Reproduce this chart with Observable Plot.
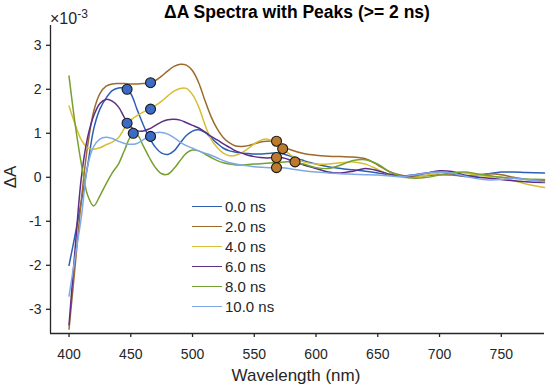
<!DOCTYPE html>
<html>
<head>
<meta charset="utf-8">
<script src="https://cdn.jsdelivr.net/npm/d3@7"></script>
<script src="https://cdn.jsdelivr.net/npm/@observablehq/plot@0.6"></script>
<style>
  body { margin: 0; background: white; }
  #wrap { position: relative; width: 550px; height: 390px; font-family: "Liberation Sans", Arial, sans-serif; color: #262626; }
  .ov { position: absolute; white-space: nowrap; }
  #title { left: 44px; width: 506px; top: 3px; text-align: center; font-weight: bold; font-size: 17.5px; line-height: 19px; color: #000; }
  #exp { left: 50px; top: 5px; font-size: 16px; line-height: 18px; }
  #exp sup { font-size: 12px; vertical-align: 6px; }
  #ylab { left: 11px; top: 177px; font-size: 17px; transform: translate(-50%, -50%) rotate(-90deg); }
  #xlab { left: 296px; top: 376px; font-size: 17px; transform: translate(-50%, -50%); }
  .leg { position: absolute; left: 192px; font-size: 15px; line-height: 17px; display: flex; align-items: center; }
  .leg span.sw { display: inline-block; width: 30px; height: 0; border-top: 1.6px solid; margin-right: 3px; }
</style>
</head>
<body>
<div id="wrap"></div>
<script>
// Wavelength grid (nm)
const wavelengths = [400,405,410,415,420,425,430,435,440,445,450,455,460,465,470,475,480,485,490,495,500,505,510,515,520,525,530,535,540,545,550,555,560,565,570,575,580,590,600,610,620,630,640,650,660,670,680,690,700,710,720,730,740,750,760,770,785];

// ΔA values (×10^-3) for each delay
const dA_0ns = [-2.0,-1.3,-0.55,0.25,1.1,1.55,1.8,1.97,2.03,2.02,1.9,1.55,1.2,0.9,0.68,0.55,0.52,0.6,0.78,0.95,1.05,1.08,1.02,0.9,0.77,0.66,0.6,0.57,0.55,0.54,0.53,0.53,0.54,0.55,0.55,0.52,0.47,0.38,0.3,0.24,0.2,0.17,0.14,0.1,0.05,0.03,0.06,0.1,0.12,0.08,0.02,0.03,0.08,0.12,0.12,0.11,0.1];
const dA_2ns = [-3.45,-2.0,-0.5,0.7,1.5,1.9,2.07,2.12,2.13,2.13,2.12,2.12,2.13,2.15,2.2,2.3,2.42,2.52,2.57,2.55,2.42,2.15,1.75,1.38,1.1,0.9,0.78,0.71,0.7,0.72,0.76,0.8,0.82,0.82,0.76,0.68,0.62,0.54,0.5,0.48,0.47,0.46,0.42,0.28,0.12,0.04,0.02,0.04,0.06,0.05,0.03,0.05,0.08,0.06,0.0,-0.05,-0.08];
const dA_4ns = [1.62,1.2,0.85,0.67,0.64,0.67,0.74,0.8,0.9,1.12,1.3,1.4,1.48,1.55,1.63,1.73,1.85,1.96,2.02,2.02,1.88,1.6,1.2,0.87,0.68,0.55,0.49,0.5,0.56,0.65,0.76,0.84,0.87,0.82,0.7,0.6,0.5,0.35,0.3,0.3,0.33,0.35,0.3,0.18,0.05,0.0,0.0,0.05,0.1,0.12,0.1,0.05,0.02,0.0,-0.08,-0.15,-0.23];
const dA_6ns = [-3.35,-1.6,0.0,0.9,1.4,1.68,1.77,1.73,1.6,1.35,1.15,1.06,1.05,1.1,1.18,1.26,1.31,1.32,1.3,1.24,1.18,1.12,1.03,0.93,0.85,0.76,0.68,0.6,0.55,0.5,0.47,0.45,0.44,0.45,0.45,0.43,0.38,0.28,0.2,0.12,0.1,0.14,0.2,0.15,0.07,0.03,0.04,0.1,0.15,0.13,0.05,0.0,-0.02,-0.05,-0.08,-0.1,-0.12];
const dA_8ns = [2.3,1.2,0.3,-0.4,-0.65,-0.42,-0.15,0.1,0.3,0.62,0.92,0.97,0.72,0.45,0.22,0.08,0.07,0.2,0.38,0.55,0.62,0.6,0.53,0.45,0.38,0.33,0.3,0.28,0.28,0.29,0.3,0.31,0.32,0.33,0.34,0.35,0.35,0.3,0.22,0.2,0.28,0.38,0.4,0.3,0.12,0.02,-0.02,0.0,0.05,0.1,0.12,0.08,0.04,0.0,-0.02,-0.04,-0.05];
const dA_10ns = [-2.7,-1.8,-0.9,0.25,0.7,0.87,0.91,0.88,0.82,0.77,0.75,0.77,0.85,0.95,1.01,1.02,0.98,0.9,0.8,0.72,0.66,0.6,0.55,0.5,0.44,0.38,0.33,0.3,0.28,0.26,0.24,0.23,0.22,0.22,0.22,0.21,0.19,0.15,0.12,0.1,0.08,0.07,0.06,0.05,0.03,0.02,0.05,0.1,0.12,0.1,0.03,-0.03,-0.06,-0.05,-0.02,-0.05,-0.1];

const seriesNames = ["0.0 ns","2.0 ns","4.0 ns","6.0 ns","8.0 ns","10.0 ns"];
const seriesValues = [dA_0ns, dA_2ns, dA_4ns, dA_6ns, dA_8ns, dA_10ns];
const seriesColors = ["#2e5fb3","#9c6a2c","#d6bf34","#5b2f88","#76a030","#7fa8ea"];

// Detected peaks
const peakWl   = [447, 466, 466, 447, 452, 466, 568, 573, 568, 583, 568];
const peakVal  = [2.0, 2.15, 1.55, 1.23, 1.0, 0.93, 0.82, 0.65, 0.45, 0.35, 0.22];
const peakKind = ["first","first","first","first","first","first","second","second","second","second","second"];

const xTicks = [400,450,500,550,600,650,700,750];
const yTicks = [-3,-2,-1,0,1,2,3];

const rows = [];
seriesNames.forEach((name, i) => {
  wavelengths.forEach((w, j) => rows.push({wl: w, v: seriesValues[i][j], name}));
});
const peaks = peakWl.map((w, i) => ({wl: w, v: peakVal[i], kind: peakKind[i]}));

const axisColor = "#262626";
const chart = Plot.plot({
  width: 550,
  height: 390,
  marginLeft: 50,
  marginRight: 6,
  marginTop: 25,
  marginBottom: 57,
  style: {fontFamily: '"Liberation Sans", Arial, sans-serif', fontSize: "14px", color: axisColor, background: "white"},
  x: {domain: [385, 785]},
  y: {domain: [-3.55, 3.45]},
  color: {domain: seriesNames, range: seriesColors},
  marks: [
    Plot.line(rows, {x: "wl", y: "v", z: "name", stroke: "name", curve: "catmull-rom", strokeWidth: 1.5}),
    Plot.dot(peaks, {x: "wl", y: "v", r: 5, fill: d => d.kind === "first" ? "#3b6bc5" : "#bd7a2c", stroke: "#1a1a1a", strokeWidth: 1.1}),
    Plot.ruleX([385], {stroke: axisColor, strokeWidth: 1.3}),
    Plot.ruleY([-3.55], {stroke: axisColor, strokeWidth: 1.3}),
    Plot.axisX({ticks: xTicks, tickSize: 4, tickPadding: 12, label: null, tickFormat: d => String(d), fontSize: 14, stroke: axisColor, strokeWidth: 1.3}),
    Plot.axisY({ticks: yTicks, tickSize: 4, tickPadding: 5, label: null, tickFormat: d => String(d), fontSize: 14, stroke: axisColor, strokeWidth: 1.3})
  ]
});

const wrap = document.getElementById("wrap");
wrap.appendChild(chart);

function addDiv(id, html) {
  const d = document.createElement("div");
  d.className = "ov"; d.id = id; d.innerHTML = html;
  wrap.appendChild(d);
}
addDiv("title", "ΔA Spectra with Peaks (&gt;= 2 ns)");
addDiv("exp", "×10<sup>-3</sup>");
addDiv("ylab", "ΔA");
addDiv("xlab", "Wavelength (nm)");

seriesNames.forEach((name, i) => {
  const d = document.createElement("div");
  d.className = "leg";
  d.style.top = (198 + 20 * i) + "px";
  d.innerHTML = `<span class="sw" style="border-color:${seriesColors[i]}"></span><span>${name}</span>`;
  wrap.appendChild(d);
});
</script>
</body>
</html>
